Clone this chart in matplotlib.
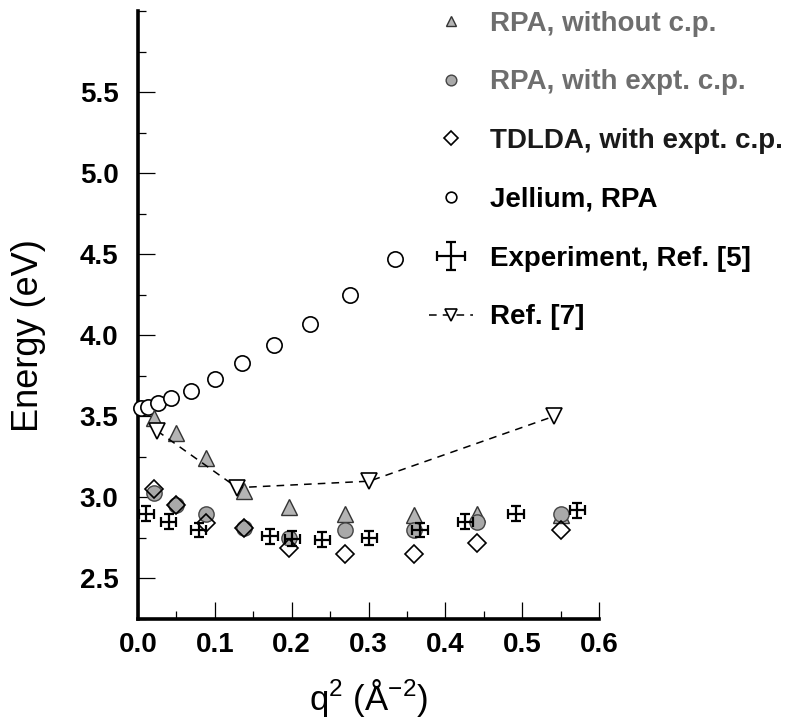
import numpy as np
import matplotlib
matplotlib.use('Agg')
from matplotlib import pyplot as plt
from matplotlib.ticker import MultipleLocator, FixedLocator, FormatStrFormatter

plt.rcParams['font.family'] = ['Liberation Sans', 'DejaVu Sans']
plt.rcParams['mathtext.fontset'] = 'custom'
plt.rcParams['mathtext.rm'] = 'Liberation Sans'

# q^2 (1/A^2) positions of the calculated points
q2_calc = [0.021, 0.050, 0.089, 0.138, 0.196, 0.270, 0.359, 0.441, 0.551]
rpa_nocp = [3.49, 3.40, 3.24, 3.04, 2.94, 2.90, 2.89, 2.90, 2.89]
rpa_cp = [3.03, 2.955, 2.90, 2.81, 2.75, 2.80, 2.80, 2.85, 2.90]
tdlda = [3.05, 2.955, 2.84, 2.81, 2.69, 2.65, 2.65, 2.72, 2.80]

q2_jell = [0.004, 0.013, 0.026, 0.043, 0.069, 0.100, 0.136, 0.177, 0.224, 0.276, 0.334]
jellium = [3.55, 3.555, 3.58, 3.61, 3.655, 3.73, 3.83, 3.94, 4.07, 4.25, 4.47]

q2_exp = [0.011, 0.040, 0.079, 0.172, 0.201, 0.240, 0.301, 0.367, 0.426, 0.492, 0.572]
e_exp = [2.90, 2.85, 2.80, 2.76, 2.745, 2.74, 2.75, 2.80, 2.85, 2.90, 2.92]
q2_err = 0.01
e_err = 0.045

q2_ref7 = [0.025, 0.129, 0.301, 0.541]
e_ref7 = [3.41, 3.06, 3.10, 3.50]

fig = plt.figure(figsize=(8.02, 7.21), dpi=100)
ax = fig.add_axes([138/802, 1 - 619/721, (599 - 138)/802, (619 - 11)/721])

ax.plot(q2_jell, jellium, 'o', ms=11, mfc='white', mec='black', mew=1.2,
        label='Jellium, RPA', clip_on=False, zorder=3)
ax.plot(q2_calc, rpa_nocp, '^', ms=11, mfc='#b4b4b4', mec='#333333', mew=1.0,
        label='RPA, without c.p.', zorder=4)
ax.plot(q2_calc, rpa_cp, 'o', ms=11, mfc='#a9a9a9', mec='#444444', mew=1.0,
        label='RPA, with expt. c.p.', zorder=4)
ax.plot(q2_calc, tdlda, 'D', ms=9.5, mfc='none', mec='black', mew=1.2,
        label='TDLDA, with expt. c.p.', zorder=5)
ax.errorbar(q2_exp, e_exp, xerr=q2_err, yerr=e_err, fmt='none', ecolor='black',
            elinewidth=1.6, capsize=3.5, capthick=1.6,
            label='Experiment, Ref. [5]', zorder=6)
ax.plot(q2_ref7, e_ref7, 'v', ls=(0, (5, 4)), lw=1.1, color='black', ms=12,
        mfc='white', mec='black', mew=1.2, label='Ref. [7]', zorder=5)

ax.set_xlim(0, 0.6)
ax.set_ylim(2.25, 6.0)
ax.xaxis.set_major_locator(MultipleLocator(0.1))
ax.xaxis.set_minor_locator(MultipleLocator(0.05))
ax.yaxis.set_major_locator(FixedLocator([2.5, 3.0, 3.5, 4.0, 4.5, 5.0, 5.5]))
ax.yaxis.set_minor_locator(MultipleLocator(0.25))

for s in ['top', 'right']:
    ax.spines[s].set_visible(False)
for s in ['left', 'bottom']:
    ax.spines[s].set_linewidth(2.6)

ax.tick_params(which='major', direction='in', length=12, width=0.9,
               labelsize=20)
ax.tick_params(axis='x', which='major', pad=9)
ax.tick_params(axis='y', which='major', pad=14)
ax.tick_params(which='minor', direction='in', length=6, width=0.9)
ax.xaxis.set_major_formatter(FormatStrFormatter('%.1f'))
ax.yaxis.set_major_formatter(FormatStrFormatter('%.1f'))
for lab in ax.get_xticklabels() + ax.get_yticklabels():
    lab.set_fontweight('bold')

ax.set_xlabel(r'q$^{2}$ (Å$^{-2}$)', fontsize=25)
ax.xaxis.set_label_coords(0.5, -0.095)
ax.set_ylabel('Energy (eV)', fontsize=26)
ax.yaxis.set_label_coords(-0.2, 0.467)

h, l = ax.get_legend_handles_labels()
order = ['RPA, without c.p.', 'RPA, with expt. c.p.', 'TDLDA, with expt. c.p.',
         'Jellium, RPA', 'Experiment, Ref. [5]', 'Ref. [7]']
hd = dict(zip(l, h))
leg = ax.legend([hd[k] for k in order], order, loc='upper left',
                bbox_to_anchor=(418/802, 1.0), bbox_transform=fig.transFigure,
                frameon=False, prop={'size': 20, 'weight': 'bold'},
                labelspacing=1.18, borderaxespad=0, borderpad=0.38,
                handlelength=1.6, handletextpad=0.6, markerscale=0.7)
for t, c in zip(leg.get_texts(), ['#6e6e6e', '#6e6e6e', '#1a1a1a',
                                   'black', 'black', 'black']):
    t.set_color(c)

fig.savefig('out.png', dpi=100)
